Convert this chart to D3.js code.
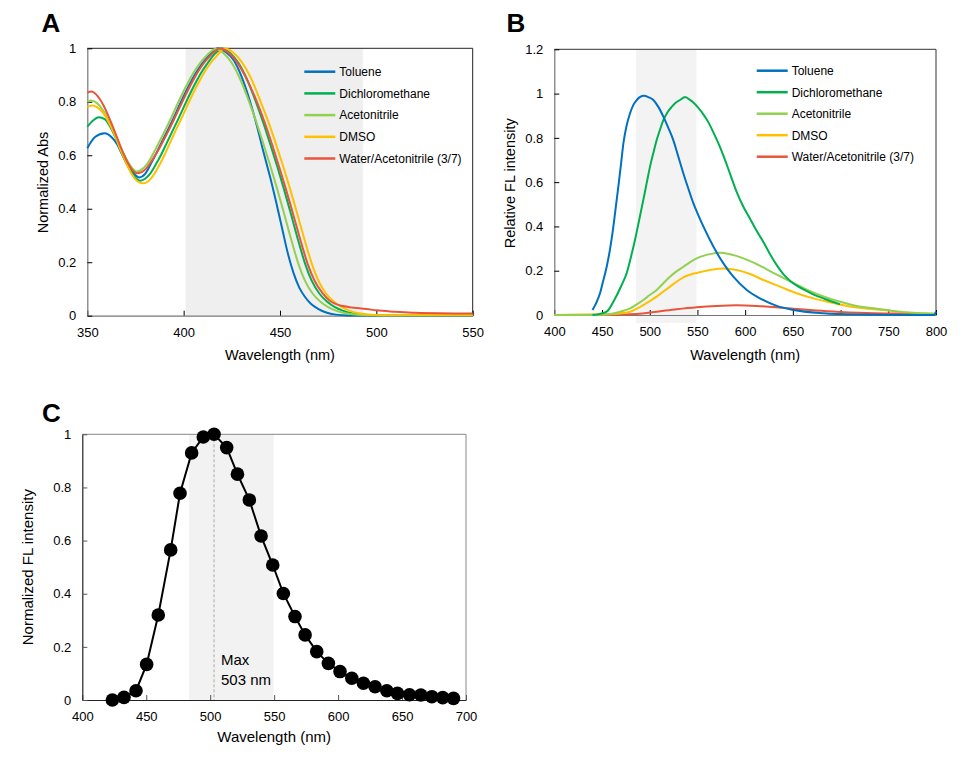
<!DOCTYPE html>
<html>
<head>
<meta charset="utf-8">
<script src="https://cdn.jsdelivr.net/npm/d3@7"></script>
<style>
  body { margin: 0; background: #fff; }
  svg { display: block; font-family: Arial, "Liberation Sans", sans-serif; }
</style>
</head>
<body>
<div id="chart"></div>
<script>
// ---- data ----
let legendNames = ["Toluene", "Dichloromethane", "Acetonitrile", "DMSO", "Water/Acetonitrile (3/7)"];
let colors = ["#0070C0", "#00B050", "#92D050", "#FFC000", "#E8553A"];

// A: normalized absorbance [nm, value]
let absToluene = [[350,.626],[354,.668],[359,.682],[362.5,.668],[365.3,.643],[368.7,.594],[372.2,.55],[375,.525],[377,.517],[380,.53],[382.8,.565],[385.8,.607],[388.8,.652],[391.8,.695],[394.8,.74],[397.8,.787],[400.8,.833],[403.8,.875],[406.8,.913],[409.8,.945],[412.8,.97],[415.3,.987],[417.5,1],[422,.985],[426,.955],[430,.895],[434.5,.8],[438,.71],[441.5,.61],[445,.515],[448,.425],[451,.33],[454,.235],[457,.16],[460,.105],[463,.07],[466,.045],[470,.025],[474,.012],[479,.004],[485,.001],[550,0]];
let absDCM = [[350,.707],[353,.73],[356,.742],[359,.735],[362,.705],[365,.66],[368,.605],[371,.56],[374,.525],[377.5,.505],[380,.512],[382.5,.53],[385.5,.565],[388.5,.605],[391.5,.65],[394.5,.695],[397.5,.74],[400.5,.787],[403.5,.833],[406.5,.875],[409.5,.913],[412.5,.945],[415,.97],[417.3,.987],[419.8,1],[424.5,.98],[428.5,.945],[432.5,.89],[437.5,.8],[441.5,.718],[445,.64],[448.5,.56],[451.8,.48],[455.5,.385],[459.5,.28],[463,.195],[466.5,.13],[470.5,.082],[474.5,.052],[478.5,.032],[482.5,.019],[487,.009],[493,.004],[503,.002],[550,.002]];
let absACN = [[350,.80],[352,.805],[355,.795],[358,.77],[361,.73],[364,.685],[367,.635],[370,.59],[373,.555],[375.6,.539],[378.5,.548],[381.5,.572],[384.5,.61],[387.5,.652],[390.5,.695],[393.5,.74],[396.5,.787],[399.5,.833],[402.5,.875],[405.5,.913],[408.5,.945],[411.5,.97],[414,.987],[416.3,.997],[421,.98],[425,.945],[429,.89],[434,.8],[438,.718],[441.5,.64],[445,.56],[448.3,.48],[452,.385],[456,.28],[459.5,.195],[463,.13],[467,.082],[471,.052],[475,.032],[479,.019],[484,.009],[490,.004],[500,.002],[550,.002]];
let absDMSO = [[350,.78],[352.5,.786],[355,.78],[358,.76],[361,.725],[364,.68],[367,.625],[370,.575],[373,.53],[376,.503],[379,.495],[381.5,.502],[384,.522],[387,.558],[390,.6],[393,.648],[396,.695],[399,.74],[402,.787],[405,.833],[408,.875],[411,.913],[414,.945],[417,.97],[419,.987],[420.8,1],[425.5,.985],[430,.95],[434.5,.895],[440,.8],[444.3,.718],[448,.64],[451.6,.56],[455,.48],[458.8,.385],[462.9,.28],[466.5,.195],[470,.13],[474,.082],[478,.052],[482,.032],[486,.019],[491,.009],[497,.004],[507,.002],[550,.002]];
let absWater = [[350,.835],[352.2,.838],[354.9,.825],[358.3,.788],[361.8,.732],[365.3,.669],[368.7,.607],[372.2,.557],[375.6,.533],[378,.536],[380.5,.55],[383.5,.58],[386.5,.615],[389.5,.655],[392.5,.697],[395.5,.742],[398.5,.788],[401.5,.833],[404.5,.875],[407.5,.913],[410.5,.945],[413.5,.97],[416,.987],[418.5,1],[423,.985],[427.5,.95],[432,.895],[438,.8],[442.3,.718],[445.9,.64],[449.4,.56],[452.8,.48],[456.6,.385],[460.7,.28],[464.3,.195],[468,.13],[472,.085],[475.5,.058],[478.5,.045],[482,.037],[486,.032],[490,.029],[495,.025],[500,.02],[510,.015],[520,.011],[550,.008]];

// B: relative fluorescence [nm, value]
let flToluene = [[440,.023],[444,.055],[447.9,.098],[451,.15],[454.9,.218],[458.5,.3],[461.9,.399],[464.5,.49],[467.1,.58],[470,.685],[472.4,.775],[475.5,.85],[479.4,.911],[483,.95],[486.4,.971],[490,.985],[494,.99],[499,.983],[503.8,.971],[509,.94],[514.3,.896],[519.5,.845],[524.7,.79],[530,.715],[535.2,.64],[540.5,.57],[545.7,.505],[551,.45],[556.2,.4],[566.7,.309],[577.2,.233],[587.6,.173],[601.7,.113],[615.6,.075],[633.1,.041],[650.5,.023],[682,.008],[717,.002],[760,0],[798,0],[800,.015]];
let flDCM = [[440,0],[447,.004],[454.9,.015],[462.9,.068],[470,.13],[475.9,.19],[480.5,.265],[484.6,.34],[489,.43],[493.3,.52],[497,.6],[500.3,.67],[504,.735],[507.3,.79],[511,.84],[514.3,.88],[518.5,.915],[523,.94],[527.5,.96],[531.8,.971],[537,.985],[541,.975],[545.7,.96],[551,.935],[556.2,.906],[561.5,.87],[566.7,.825],[572,.775],[577.2,.72],[584,.64],[591.2,.555],[598,.49],[605.1,.435],[612,.38],[619.1,.33],[626,.275],[633.1,.225],[640,.185],[647,.155],[655,.13],[664.6,.108],[673,.09],[682,.075],[690,.062],[699.5,.048]];
let flACN = [[400,0],[440,0],[450,.002],[462.9,.008],[470,.016],[479.4,.03],[486,.047],[493.3,.068],[500,.09],[507.3,.113],[514,.142],[521.2,.173],[528,.197],[535.2,.218],[542,.238],[549.2,.256],[556,.267],[563.2,.275],[573.7,.281],[584.2,.274],[598.2,.256],[612.2,.23],[629.6,.19],[647,.152],[664.6,.115],[682,.084],[699.5,.06],[717,.041],[734.4,.03],[752,.02],[769.4,.012],[786.8,.008],[800,.006]];
let flDMSO = [[400,0],[450,.002],[465,.006],[479.4,.015],[486,.028],[493.3,.045],[500,.063],[507.3,.083],[514,.105],[521.2,.128],[528,.15],[535.2,.17],[542,.182],[549.2,.19],[563.2,.203],[577.2,.21],[591.2,.203],[605.1,.185],[619.1,.158],[636.6,.128],[654,.098],[671.5,.075],[689,.057],[706.5,.041],[724,.03],[741,.024],[752,.02]];
let flWater = [[400,0],[450,.001],[486.4,.005],[507.3,.015],[528.2,.026],[549.2,.035],[570.2,.041],[591.2,.044],[612.2,.041],[633.1,.035],[654,.027],[675,.02],[699.5,.014],[734.4,.008],[770,.006],[800,.005]];

// C: normalized FL intensity, sampled points
let emX = [423.5,432.6,442,450.3,459.4,469.1,476.4,485.5,494.6,503,512.9,521.3,530.6,539.8,548.9,557.2,566.3,574.2,583.3,592.4,601.5,610.7,619.8,628.9,638.1,646.4,655.8,664.7,673.3,681.8,690.2];
let emY = [0,.01,.035,.134,.32,.565,.778,.93,.99,1,.95,.85,.753,.617,.508,.401,.314,.245,.182,.138,.107,.082,.063,.05,.035,.025,.02,.019,.0125,.009,.006];
let emMax = 503;

let ticksA_x = [350, 400, 450, 500, 550];
let ticksB_x = [400, 450, 500, 550, 600, 650, 700, 750, 800];
let ticksC_x = [400, 450, 500, 550, 600, 650, 700];
let ticksY1 = [0, 0.2, 0.4, 0.6, 0.8, 1];
let ticksY12 = [0, 0.2, 0.4, 0.6, 0.8, 1, 1.2];

let w = 974, h = 764;

let svg = d3.select("#chart").append("svg")
    .attr("width", w)
    .attr("height", h)
    .attr("viewBox", `0 0 ${w} ${h}`);

let fmt = d => d3.format("~g")(+d.toFixed(1));

// draws frame, shading, axes and titles for one panel
function panel(o) {
    let g = svg.append("g");
    let x = d3.scaleLinear().domain(o.xDomain).range(o.xRange);
    let y = d3.scaleLinear().domain(o.yDomain).range(o.yRange);

    // shaded band
    g.append("rect")
        .attr("x", x(o.shade[0]))
        .attr("y", y(o.yDomain[1]))
        .attr("width", x(o.shade[1]) - x(o.shade[0]))
        .attr("height", y(o.shadeBottom) - y(o.yDomain[1]))
        .attr("fill", o.shadeColor);

    // top / right frame
    g.append("path")
        .attr("d", `M${o.xRange[0]},${o.yRange[1]}H${o.xRange[1]}V${o.yRange[0]}`)
        .attr("fill", "none")
        .attr("stroke", o.frameColor)
        .attr("stroke-width", 1);

    let xAxis = d3.axisBottom(x).tickValues(o.xTicks).tickSizeInner(-5).tickSizeOuter(0).tickPadding(12);
    let gx = g.append("g")
        .attr("transform", `translate(0,${o.yRange[0]})`)
        .call(xAxis);
    let yAxis = d3.axisLeft(y).tickValues(o.yTicks).tickSizeInner(-5).tickSizeOuter(0).tickPadding(11).tickFormat(fmt);
    let gy = g.append("g")
        .attr("transform", `translate(${o.xRange[0]},0)`)
        .call(yAxis);

    [gx, gy].forEach(a => {
        a.select(".domain").attr("stroke", o.axisColor).attr("stroke-width", 1.2);
        a.selectAll(".tick line").attr("stroke", o.tickColor);
        a.selectAll("text")
            .attr("fill", "#000")
            .style("font-size", o.tickFont + "px")
            .style("font-family", "Arial, 'Liberation Sans', sans-serif");
    });

    g.append("text")
        .attr("x", (o.xRange[0] + o.xRange[1]) / 2)
        .attr("y", o.xTitleY)
        .attr("text-anchor", "middle")
        .style("font-size", o.titleFont + "px")
        .text("Wavelength (nm)");

    g.append("text")
        .attr("transform", `translate(${o.yTitleX},${o.yTitleMid}) rotate(-90)`)
        .attr("text-anchor", "middle")
        .style("font-size", o.titleFont + "px")
        .text(o.yTitle);

    g.append("text")
        .attr("x", o.letterX)
        .attr("y", o.letterY)
        .style("font-size", "26px")
        .style("font-weight", "bold")
        .text(o.letter);

    return {g, x, y};
}

function legend(g, x0, y0, step) {
    legendNames.forEach((name, i) => {
        let yy = y0 + i * step;
        g.append("line")
            .attr("x1", x0).attr("x2", x0 + 31)
            .attr("y1", yy).attr("y2", yy)
            .attr("stroke", colors[i])
            .attr("stroke-width", 2.5);
        g.append("text")
            .attr("x", x0 + 35)
            .attr("y", yy + 4.3)
            .style("font-size", "12px")
            .text(name);
    });
}

// ---- Panel A ----
let A = panel({
    xDomain: [350, 550], xRange: [87.3, 472.7],
    yDomain: [0, 1], yRange: [315.7, 48.3],
    xTicks: ticksA_x, yTicks: ticksY1,
    shade: [401, 493], shadeBottom: 0, shadeColor: "#efefef",
    frameColor: "#222", axisColor: "#777", tickColor: "#000",
    tickFont: 13, titleFont: 14.5,
    xTitleY: 360, yTitleX: 47.5, yTitleMid: 182.5, yTitle: "Normalized Abs",
    letter: "A", letterX: 41.5, letterY: 32.3
});
let lineA = d3.line().x(d => A.x(d[0])).y(d => A.y(d[1])).curve(d3.curveMonotoneX);
[absToluene, absDCM, absACN, absDMSO, absWater].forEach((s, i) => {
    A.g.append("path").datum(s)
        .attr("d", lineA)
        .attr("fill", "none")
        .attr("stroke", colors[i])
        .attr("stroke-width", 2);
});
legend(A.g, 304.3, 71.7, 21.7);

// ---- Panel B ----
let B = panel({
    xDomain: [400, 800], xRange: [554.3, 936],
    yDomain: [0, 1.2], yRange: [315, 49.3],
    xTicks: ticksB_x, yTicks: ticksY12,
    shade: [485.6, 549], shadeBottom: -0.036, shadeColor: "#f3f3f3",
    frameColor: "#333", axisColor: "#777", tickColor: "#000",
    tickFont: 13, titleFont: 14.5,
    xTitleY: 360, yTitleX: 515, yTitleMid: 183.3, yTitle: "Relative FL intensity",
    letter: "B", letterX: 506.5, letterY: 32.3
});
let lineB = d3.line().x(d => B.x(d[0])).y(d => B.y(d[1])).curve(d3.curveMonotoneX);
// draw order as in the figure: faint ones first
let orderB = [[flWater, 4], [flDMSO, 3], [flACN, 2], [flDCM, 1], [flToluene, 0]];
orderB.forEach(([s, i]) => {
    B.g.append("path").datum(s)
        .attr("d", lineB)
        .attr("fill", "none")
        .attr("stroke", colors[i])
        .attr("stroke-width", 2);
});
legend(B.g, 756.7, 70.7, 21.5);

// ---- Panel C ----
let C = panel({
    xDomain: [400, 700], xRange: [82.3, 466],
    yDomain: [0, 1], yRange: [700, 434.3],
    xTicks: ticksC_x, yTicks: ticksY1,
    shade: [483.4, 549.6], shadeBottom: 0, shadeColor: "#f2f2f2",
    frameColor: "#888", axisColor: "#222", tickColor: "#555",
    tickFont: 13, titleFont: 15,
    xTitleY: 742, yTitleX: 32.5, yTitleMid: 567.2, yTitle: "Normalized FL intensity",
    letter: "C", letterX: 42, letterY: 421.7
});

C.g.append("line")
    .attr("x1", C.x(emMax)).attr("x2", C.x(emMax))
    .attr("y1", C.y(1)).attr("y2", C.y(0))
    .attr("stroke", "#aaa")
    .attr("stroke-width", 1)
    .attr("stroke-dasharray", "3,2");

let emData = emX.map((v, i) => [v, emY[i]]);
C.g.append("path").datum(emData)
    .attr("d", d3.line().x(d => C.x(d[0])).y(d => C.y(d[1])))
    .attr("fill", "none")
    .attr("stroke", "#000")
    .attr("stroke-width", 2);

C.g.selectAll("circle.pt")
    .data(emData)
    .enter()
    .append("circle")
    .attr("class", "pt")
    .attr("cx", d => C.x(d[0]))
    .attr("cy", d => C.y(d[1]))
    .attr("r", 6.8)
    .attr("fill", "#000");

C.g.append("text")
    .attr("x", 221).attr("y", 665)
    .style("font-size", "15px")
    .text("Max");
C.g.append("text")
    .attr("x", 221).attr("y", 685)
    .style("font-size", "15px")
    .text(emMax + " nm");
</script>
</body>
</html>
